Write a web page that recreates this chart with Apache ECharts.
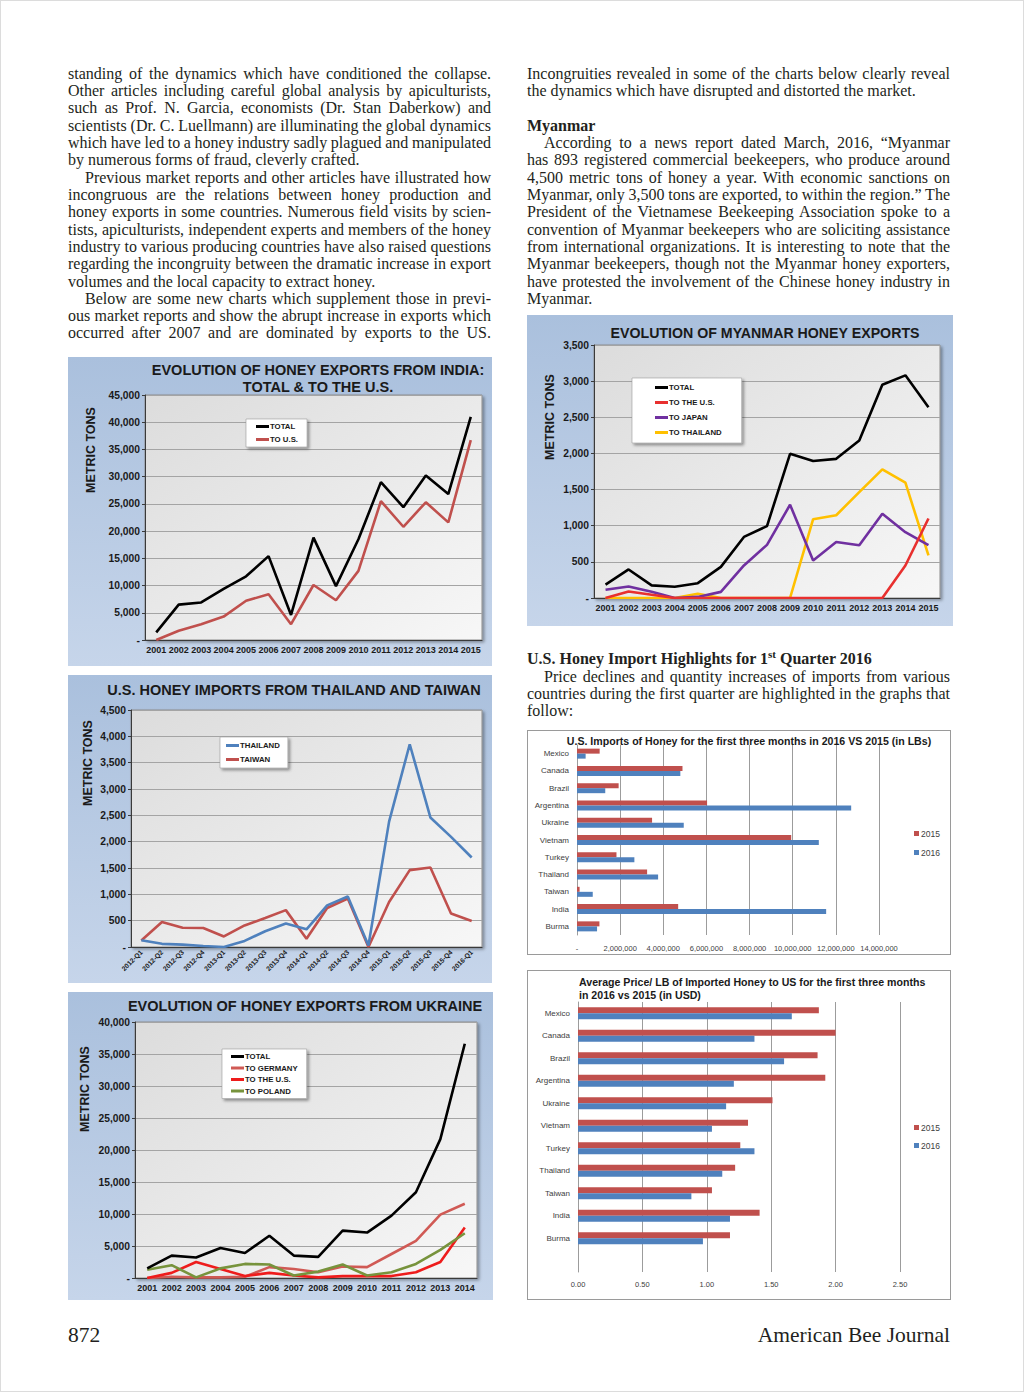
<!DOCTYPE html>
<html><head><meta charset="utf-8">
<script src="https://cdn.jsdelivr.net/npm/echarts@6/dist/echarts.min.js"></script>
<style>
html,body{margin:0;padding:0;background:#fff;}
#page{position:relative;width:1024px;height:1392px;overflow:hidden;background:#fff;outline:1px solid #dcdcdc;outline-offset:-1px;}
.ln{position:absolute;height:18px;line-height:18px;font-family:'Liberation Serif','Times New Roman',serif;font-size:16px;color:#231f20;white-space:nowrap;}
.ln span{display:inline-block;}
.b{font-weight:bold;}
.ch{position:absolute;}
.box{box-sizing:border-box;border:1.5px solid #9a9a9a;background:#fff;}
.foot{position:absolute;font-family:'Liberation Serif','Times New Roman',serif;font-size:21.5px;color:#231f20;line-height:24px;}
</style></head><body><div id="page">
<div id="text"></div>
<div class="ch" id="cIndia" style="left:68px;top:357px;width:424px;height:309px"></div>
<div class="ch" id="cThai" style="left:68px;top:675px;width:424px;height:308px"></div>
<div class="ch" id="cUkr" style="left:68px;top:992px;width:425px;height:308px"></div>
<div class="ch" id="cMyan" style="left:527px;top:315px;width:426px;height:311px"></div>
<div class="ch box" id="cImp" style="left:527px;top:730px;width:424px;height:225px"></div>
<div class="ch box" id="cPrice" style="left:527px;top:970px;width:424px;height:330px"></div>
<div class="foot" style="left:68px;top:1323px;">872</div>
<div class="foot" style="right:74px;top:1323px;">American Bee Journal</div>
</div>
<script>
// ---------------- DATA ----------------
const years01to15 = ['2001','2002','2003','2004','2005','2006','2007','2008','2009','2010','2011','2012','2013','2014','2015'];
const years01to14 = ['2001','2002','2003','2004','2005','2006','2007','2008','2009','2010','2011','2012','2013','2014'];
const quarters = ['2012-Q1','2012-Q2','2012-Q3','2012-Q4','2013-Q1','2013-Q2','2013-Q3','2013-Q4','2014-Q1','2014-Q2','2014-Q3','2014-Q4','2015-Q1','2015-Q2','2015-Q3','2015-Q4','2016-Q1'];

const indiaTotal = [1400, 6500, 6900, 9400, 11700, 15400, 4600, 18800, 9900, 18500, 29000, 24400, 30200, 26800, 41000];
const indiaToUS  = [0, 1700, 2900, 4300, 7200, 8400, 2900, 10100, 7300, 12700, 25500, 20800, 25300, 21600, 36700];

const thailandImports = [127, 60, 45, 20, 0, 115, 300, 445, 335, 790, 960, 30, 2380, 3850, 2460, 2090, 1700];
const taiwanImports   = [125, 475, 365, 360, 200, 410, 550, 700, 155, 740, 920, 0, 855, 1460, 1510, 635, 495];

const ukraineTotal     = [1500, 3500, 3200, 4700, 3900, 6600, 3500, 3300, 7400, 7100, 9750, 13400, 21700, 36600];
const ukraineToGermany = [0, 200, 100, 100, 200, 1700, 1400, 900, 1800, 1700, 3750, 5800, 9900, 11600];
const ukraineToUS      = [0, 800, 2500, 1400, 300, 800, 400, 100, 300, 300, 300, 900, 2500, 7900];
const ukraineToPoland  = [1300, 2000, 100, 1500, 2200, 2100, 400, 1000, 2100, 400, 900, 2200, 4400, 7000];

const myanmarTotal      = [185, 395, 175, 155, 205, 430, 845, 995, 1995, 1895, 1925, 2180, 2950, 3080, 2640];
const myanmarToUS       = [0, 90, 45, 0, 0, 0, 0, 0, 0, 0, 0, 0, 0, 450, 1100];
const myanmarToJapan    = [115, 160, 85, 0, 15, 85, 450, 735, 1290, 520, 775, 730, 1165, 910, 730];
const myanmarToThailand = [0, 0, 0, 0, 60, 0, 0, 0, 0, 1090, 1145, 1465, 1780, 1595, 590];

const importCountries = ['Mexico','Canada','Brazil','Argentina','Ukraine','Vietnam','Turkey','Thailand','Taiwan','India','Burma'];
const imports2015Lbs = [1050000, 4890000, 1930000, 6030000, 3480000, 9930000, 1830000, 3250000, 120000, 4690000, 1040000];
const imports2016Lbs = [400000, 4790000, 1310000, 12710000, 4950000, 11210000, 2660000, 3760000, 730000, 11550000, 930000];

const priceCountries = ['Mexico','Canada','Brazil','Argentina','Ukraine','Vietnam','Turkey','Thailand','Taiwan','India','Burma',''];
const price2015 = [1.87, 2.00, 1.86, 1.92, 1.51, 1.32, 1.26, 1.22, 1.04, 1.41, 1.18, null];
const price2016 = [1.66, 1.37, 1.60, 1.21, 1.15, 1.04, 1.37, 1.12, 0.88, 1.18, 0.97, null];

// ---------------- TEXT ----------------
const LX = 68, RX = 527, COLW = 423, IND = 17;
const textLines = [
  [LX, 73, 'J', 0, 'standing of the dynamics which have conditioned the collapse.'],
  [LX, 90, 'J', 0, 'Other articles including careful global analysis by apiculturists,'],
  [LX, 107, 'J', 0, 'such as Prof. N. Garcia, economists (Dr. Stan Daberkow) and'],
  [LX, 125, 'J', 0, 'scientists (Dr. C. Luellmann) are illuminating the global dynamics'],
  [LX, 142, 'J', 0, 'which have led to a honey industry sadly plagued and manipulated'],
  [LX, 159, 'L', 0, 'by numerous forms of fraud, cleverly crafted.'],
  [LX, 177, 'J', 1, 'Previous market reports and other articles have illustrated how'],
  [LX, 194, 'J', 0, 'incongruous are the relations between honey production and'],
  [LX, 211, 'J', 0, 'honey exports in some countries. Numerous field visits by scien-'],
  [LX, 229, 'J', 0, 'tists, apiculturists, independent experts and members of the honey'],
  [LX, 246, 'J', 0, 'industry to various producing countries have also raised questions'],
  [LX, 263, 'J', 0, 'regarding the incongruity between the dramatic increase in export'],
  [LX, 281, 'L', 0, 'volumes and the local capacity to extract honey.'],
  [LX, 298, 'J', 1, 'Below are some new charts which supplement those in previ-'],
  [LX, 315, 'J', 0, 'ous market reports and show the abrupt increase in exports which'],
  [LX, 332, 'J', 0, 'occurred after 2007 and are dominated by exports to the US.'],
  [RX, 73, 'J', 0, 'Incongruities revealed in some of the charts below clearly reveal'],
  [RX, 90, 'L', 0, 'the dynamics which have disrupted and distorted the market.'],
  [RX, 125, 'B', 0, 'Myanmar'],
  [RX, 142, 'J', 1, 'According to a news report dated March, 2016, \u201CMyanmar'],
  [RX, 159, 'J', 0, 'has 893 registered commercial beekeepers, who produce around'],
  [RX, 177, 'J', 0, '4,500 metric tons of honey a year. With economic sanctions on'],
  [RX, 194, 'J', 0, 'Myanmar, only 3,500 tons are exported, to within the region.\u201D The'],
  [RX, 211, 'J', 0, 'President of the Vietnamese Beekeeping Association spoke to a'],
  [RX, 229, 'J', 0, 'convention of Myanmar beekeepers who are soliciting assistance'],
  [RX, 246, 'J', 0, 'from international organizations. It is interesting to note that the'],
  [RX, 263, 'J', 0, 'Myanmar beekeepers, though not the Myanmar honey exporters,'],
  [RX, 281, 'J', 0, 'have protested the involvement of the Chinese honey industry in'],
  [RX, 298, 'L', 0, 'Myanmar.'],
  [RX, 658, 'H', 0, 'U.S. Honey Import Highlights for 1<sup style="font-size:11px;line-height:0;vertical-align:6px">st</sup> Quarter 2016'],
  [RX, 676, 'J', 1, 'Price declines and quantity increases of imports from various'],
  [RX, 693, 'J', 0, 'countries during the first quarter are highlighted in the graphs that'],
  [RX, 710, 'L', 0, 'follow:']
];
const textHost = document.getElementById('text');
textLines.forEach(([x, y, mode, ind, t]) => {
  const d = document.createElement('div');
  d.className = 'ln' + ((mode === 'B' || mode === 'H') ? ' b' : '');
  d.style.left = x + 'px'; d.style.top = (y - 8) + 'px'; d.style.width = COLW + 'px';
  const s = document.createElement('span');
  s.innerHTML = t;
  if (ind) s.style.marginLeft = IND + 'px';
  d.appendChild(s);
  textHost.appendChild(d);
  if (mode === 'J') {
    const nat = s.getBoundingClientRect().width;
    const avail = COLW - (ind ? IND : 0);
    const n = (t.match(/ /g) || []).length;
    if (n) s.style.wordSpacing = ((avail - nat) / n) + 'px';
  }
});

// ---------------- CHARTS ----------------
const FONT = "'Liberation Sans', Arial, sans-serif";
const BLUE_BG = {type:'linear',x:0,y:0,x2:0,y2:1,colorStops:[{offset:0,color:'#aac0dd'},{offset:1,color:'#c6d5ea'}]};
const PLOT_BG = {type:'linear',x:0,y:0,x2:1,y2:1,colorStops:[{offset:0,color:'#dcdcdc'},{offset:1,color:'#f7f7f7'}]};
const fmtTons = v => v === 0 ? '-' : v.toLocaleString('en-US');

function txt(x, y, text, size, extra) {
  return Object.assign({type:'text', x, y, z:100, style:{text, font:'bold ' + size + 'px ' + FONT, fill:'#1a1a1a', align:'center', verticalAlign:'middle'}}, extra || {});
}

function lineChart(id, c) {
  const chart = echarts.init(document.getElementById(id), null, {renderer:'svg'});
  const g = c.titles.map(t => txt(t[0], t[1], t[2], c.titleSize || 14.5));
  g.push(txt(c.yName[0], c.yName[1], 'METRIC TONS', 12.5, {rotation: Math.PI / 2}));
  chart.setOption({
    animation:false,
    backgroundColor: BLUE_BG,
    textStyle:{fontFamily: FONT},
    graphic: g,
    grid: Object.assign({show:true, backgroundColor: PLOT_BG, borderColor:'#8c8c8c', borderWidth:1,
      shadowColor:'rgba(0,0,0,0.35)', shadowBlur:3, shadowOffsetX:2, shadowOffsetY:2, containLabel:false}, c.grid),
    legend: Object.assign({orient:'vertical', backgroundColor:'#fff', borderColor:'#9a9a9a', borderWidth:0.6,
      shadowColor:'rgba(0,0,0,0.4)', shadowBlur:3, shadowOffsetX:2, shadowOffsetY:2,
      icon:'rect', itemWidth:13, itemHeight:3, selectedMode:false,
      textStyle:{fontSize:7.8, fontWeight:'bold', color:'#1a1a1a', lineHeight:9, padding:[0,0,0,-4]},
      data: c.series.map(s => s.name)}, c.legend),
    xAxis: {type:'category', data:c.categories, boundaryGap:true,
      axisLine:{lineStyle:{color:'#3a3a3a', width:1}},
      axisTick:{length:4, lineStyle:{color:'#3a3a3a'}},
      axisLabel:Object.assign({color:'#1a1a1a', fontWeight:'bold', fontSize:9, margin:5, interval:0}, c.xLabel || {})},
    yAxis: {type:'value', min:0, max:c.max, interval:c.interval,
      axisLine:{show:true, lineStyle:{color:'#3a3a3a'}},
      axisTick:{show:true, length:3, lineStyle:{color:'#3a3a3a'}},
      splitLine:{lineStyle:{color:'#a4a4a4', width:1}},
      axisLabel:{formatter:fmtTons, fontWeight:'bold', fontSize:10.3, color:'#1a1a1a', margin:5}},
    series: c.series.map(s => ({type:'line', name:s.name, data:s.data, symbol:'none',
      lineStyle:{width:2.6, color:s.color}, itemStyle:{color:s.color}, z: s.z || 2}))
  });
}

lineChart('cIndia', {
  titles:[[250, 13, 'EVOLUTION OF HONEY EXPORTS FROM INDIA:'], [250, 30, 'TOTAL & TO THE U.S.']],
  yName:[23, 93],
  grid:{left:77, right:10, top:38, bottom:26},
  legend:{left:178, top:62, padding:[3,9,3,10], itemGap:4},
  categories: years01to15, max:45000, interval:5000,
  series:[{name:'TOTAL', data:indiaTotal, color:'#000000', z:3},
          {name:'TO U.S.', data:indiaToUS, color:'#c0504d'}]
});

lineChart('cThai', {
  titles:[[226, 15, 'U.S. HONEY IMPORTS FROM THAILAND AND TAIWAN']],
  yName:[20, 88],
  grid:{left:63, right:10, top:35, bottom:36},
  legend:{left:152, top:62, padding:[4,8,4,6], itemGap:5},
  categories: quarters, max:4500, interval:500,
  xLabel:{rotate:45, fontSize:6.8, margin:4},
  series:[{name:'THAILAND', data:thailandImports, color:'#4f81bd', z:3},
          {name:'TAIWAN', data:taiwanImports, color:'#c0504d'}]
});

lineChart('cUkr', {
  titles:[[237, 14, 'EVOLUTION OF HONEY EXPORTS FROM UKRAINE']],
  yName:[17, 97],
  grid:{left:67, right:16, top:30, bottom:22},
  legend:{left:154, top:57, padding:[3,9,3,9], itemGap:2.5},
  categories: years01to14, max:40000, interval:5000,
  series:[{name:'TOTAL', data:ukraineTotal, color:'#000000', z:5},
          {name:'TO GERMANY', data:ukraineToGermany, color:'#d05a55'},
          {name:'TO THE U.S.', data:ukraineToUS, color:'#ee1c1c', z:3},
          {name:'TO POLAND', data:ukraineToPoland, color:'#77933c', z:4}]
});

lineChart('cMyan', {
  titles:[[238, 18, 'EVOLUTION OF MYANMAR HONEY EXPORTS']],
  titleSize:14.2,
  yName:[23, 102],
  grid:{left:67, right:13, top:30, bottom:28},
  legend:{left:105, top:63, padding:[5,20,6,23], itemGap:6},
  categories: years01to15, max:3500, interval:500,
  series:[{name:'TOTAL', data:myanmarTotal, color:'#000000', z:5},
          {name:'TO THE U.S.', data:myanmarToUS, color:'#e8302f', z:4},
          {name:'TO JAPAN', data:myanmarToJapan, color:'#7030a0', z:3},
          {name:'TO THAILAND', data:myanmarToThailand, color:'#ffc000'}]
});

function barChart(id, c) {
  const chart = echarts.init(document.getElementById(id), null, {renderer:'svg'});
  chart.setOption({
    animation:false,
    backgroundColor:'#fff',
    textStyle:{fontFamily: FONT},
    graphic: c.titles.map(t => ({type:'text', x:t[0], y:t[1], z:100,
      style:{text:t[2], font:'bold 10.6px ' + FONT, fill:'#1a1a1a', align:t[3], verticalAlign:'middle'}})),
    grid: c.grid,
    legend:{orient:'vertical', left:c.legendPos[0], top:c.legendPos[1], icon:'rect', itemWidth:5, itemHeight:5,
      itemGap:c.legendGap, selectedMode:false, padding:0,
      textStyle:{fontSize:8.5, color:'#404040', padding:[0,0,0,-3]}, data:['2015','2016']},
    xAxis:{type:'value', min:0, max:c.max, interval:c.interval,
      axisLine:{show:false}, axisTick:{show:false},
      splitLine:{lineStyle:{color:'#9c9c9c', width:1}},
      axisLabel:{formatter:c.fmt, fontSize:7.5, color:'#404040', margin:c.xMargin}},
    yAxis:{type:'category', data:c.categories, inverse:true,
      axisLine:{lineStyle:{color:'#9c9c9c'}}, axisTick:{length:4, lineStyle:{color:'#9c9c9c'}},
      axisLabel:{fontSize:8, color:'#404040', margin:8}},
    series:[
      {type:'bar', name:'2015', data:c.s2015, barWidth:c.barWidth, barGap:'0%', itemStyle:{color:'#c0504d'}},
      {type:'bar', name:'2016', data:c.s2016, barWidth:c.barWidth, barGap:'0%', itemStyle:{color:'#4f81bd'}}
    ]
  });
}

barChart('cImp', {
  titles:[[221, 10, 'U.S. Imports of Honey for the first three months in 2016 VS 2015 (in LBs)', 'center']],
  grid:{left:49, right:71, top:14, bottom:19},
  legendPos:[386, 98], legendGap:10,
  max:14000000, interval:2000000,
  fmt: v => v === 0 ? '-' : v.toLocaleString('en-US'), xMargin:9,
  categories: importCountries, s2015: imports2015Lbs, s2016: imports2016Lbs, barWidth:5
});

barChart('cPrice', {
  titles:[[51, 11, 'Average Price/ LB of Imported Honey to US for the first three months', 'left'],
          [51, 24, 'in 2016 vs 2015 (in USD)', 'left']],
  grid:{left:50, right:50, top:31, bottom:27},
  legendPos:[386, 152], legendGap:9,
  max:2.5, interval:0.5,
  fmt: v => v.toFixed(2), xMargin:8,
  categories: priceCountries, s2015: price2015, s2016: price2016, barWidth:6
});
</script>
</body></html>
